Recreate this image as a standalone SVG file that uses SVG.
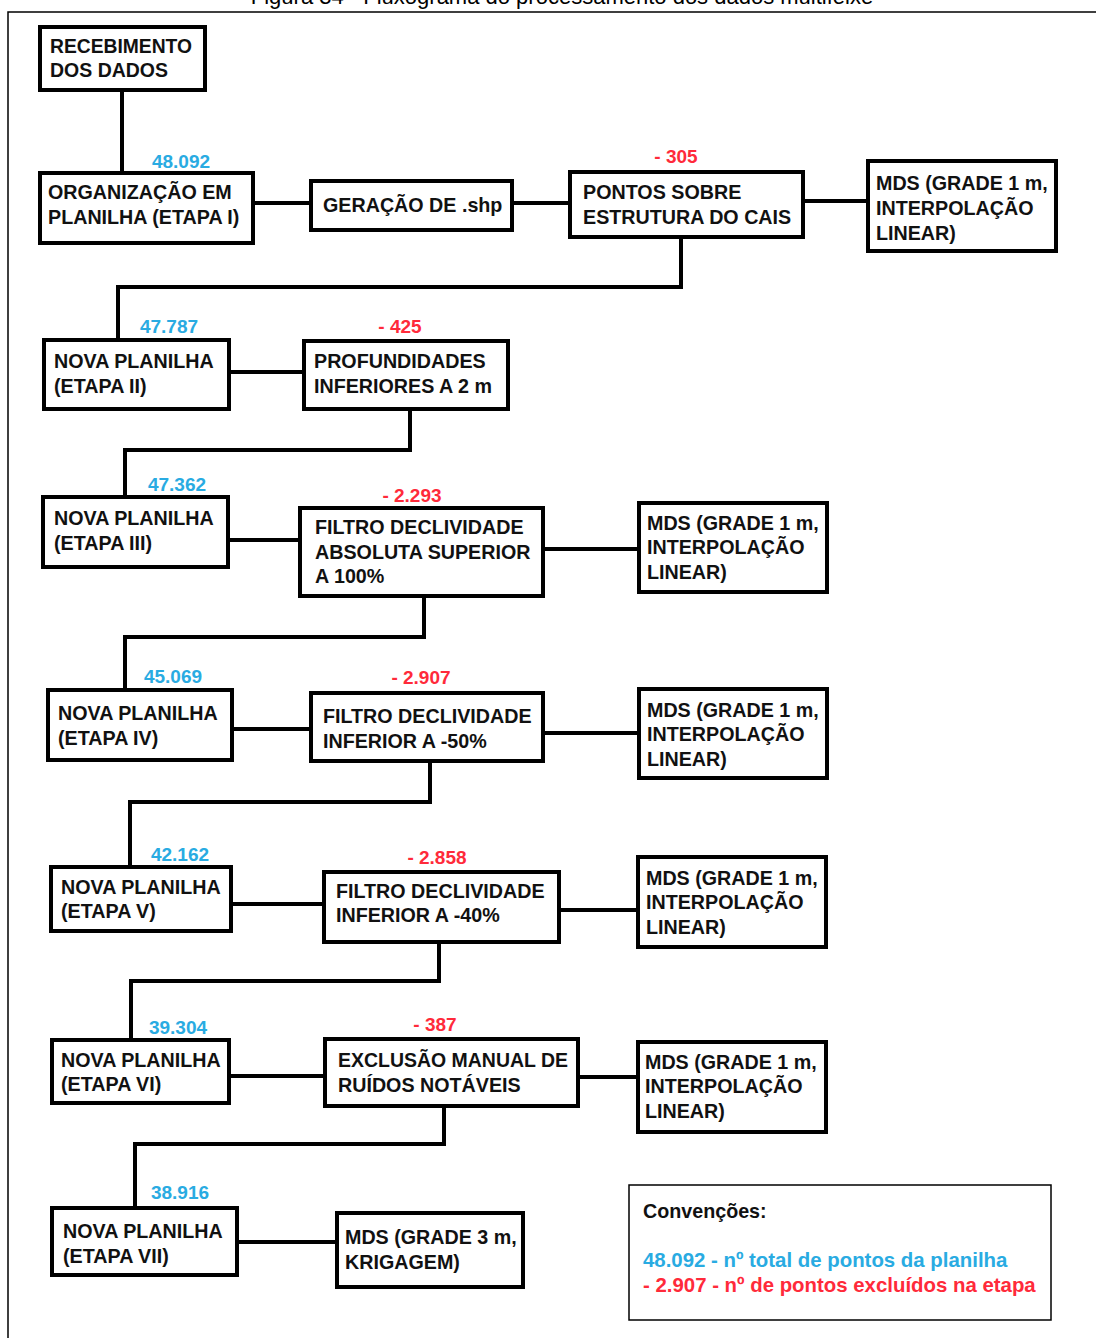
<svg xmlns="http://www.w3.org/2000/svg" width="1096" height="1338" viewBox="0 0 1096 1338">
<style>
.box{fill:#fff;stroke:#000;stroke-width:4}
.t{font-family:"Liberation Sans",Arial,sans-serif;font-weight:bold;font-size:19.7px;fill:#111}
.b{font-family:"Liberation Sans",Arial,sans-serif;font-weight:bold;font-size:19px;fill:#29abe2}
.r{font-family:"Liberation Sans",Arial,sans-serif;font-weight:bold;font-size:19px;fill:#ff2a3a}
.lg{font-size:20.4px}
.c{fill:none;stroke:#000;stroke-width:4}
.frame{fill:none;stroke:#000;stroke-width:1.5}
</style>
<rect width="1096" height="1338" fill="#fff"/>
<text x="562" y="4" text-anchor="middle" font-family="Liberation Sans,Arial,sans-serif" font-size="22" fill="#000">Figura 34 - Fluxograma do processamento dos dados multifeixe</text>
<path class="frame" d="M1096 12 H8 V1338"/>
<g id="connectors">
<path class="c" d="M122 90 V173"/>
<path class="c" d="M253 203 H311"/>
<path class="c" d="M512 203 H570"/>
<path class="c" d="M803 201 H868"/>
<path class="c" d="M681 237 V287 H118 V340"/>
<path class="c" d="M229 372 H304"/>
<path class="c" d="M410 409 V450 H125 V497"/>
<path class="c" d="M228 540 H300"/>
<path class="c" d="M543 549 H639"/>
<path class="c" d="M424 596 V637 H125 V690"/>
<path class="c" d="M232 729 H311"/>
<path class="c" d="M543 733 H639"/>
<path class="c" d="M430 761 V802 H130 V867"/>
<path class="c" d="M231 904 H324"/>
<path class="c" d="M559 910 H638"/>
<path class="c" d="M439 942 V981 H131 V1040"/>
<path class="c" d="M229 1076 H325"/>
<path class="c" d="M578 1077 H638"/>
<path class="c" d="M444 1106 V1144 H135 V1208"/>
<path class="c" d="M237 1242 H337"/>
</g>
<g id="n1"><rect class="box" x="40" y="27" width="165" height="63"/>
<text class="t" x="50" y="53" textLength="142" lengthAdjust="spacingAndGlyphs">RECEBIMENTO</text>
<text class="t" x="50" y="77" textLength="118" lengthAdjust="spacingAndGlyphs">DOS DADOS</text></g>
<g id="n2"><rect class="box" x="40" y="173" width="213" height="70"/>
<text class="b" x="181" y="168" text-anchor="middle">48.092</text>
<text class="t" x="48" y="199">ORGANIZAÇÃO EM</text>
<text class="t" x="48" y="224">PLANILHA (ETAPA I)</text></g>
<g id="n3"><rect class="box" x="311" y="181" width="201" height="49"/>
<text class="t" x="323" y="212">GERAÇÃO DE .shp</text></g>
<g id="n4"><rect class="box" x="570" y="172" width="233" height="65"/>
<text class="r" x="676" y="163" text-anchor="middle">- 305</text>
<text class="t" x="583" y="199">PONTOS SOBRE</text>
<text class="t" x="583" y="224">ESTRUTURA DO CAIS</text></g>
<g id="n5"><rect class="box" x="868" y="161" width="188" height="90"/>
<text class="t" x="876" y="190">MDS (GRADE 1 m,</text>
<text class="t" x="876" y="215">INTERPOLAÇÃO</text>
<text class="t" x="876" y="240">LINEAR)</text></g>
<g id="n6"><rect class="box" x="44" y="340" width="185" height="69"/>
<text class="b" x="169" y="333" text-anchor="middle">47.787</text>
<text class="t" x="54" y="368">NOVA PLANILHA</text>
<text class="t" x="54" y="393">(ETAPA II)</text></g>
<g id="n7"><rect class="box" x="304" y="341" width="204" height="68"/>
<text class="r" x="400" y="333" text-anchor="middle">- 425</text>
<text class="t" x="314" y="368">PROFUNDIDADES</text>
<text class="t" x="314" y="393">INFERIORES A 2 m</text></g>
<g id="n8"><rect class="box" x="43" y="497" width="185" height="70"/>
<text class="b" x="177" y="491" text-anchor="middle">47.362</text>
<text class="t" x="54" y="525">NOVA PLANILHA</text>
<text class="t" x="54" y="550">(ETAPA III)</text></g>
<g id="n9"><rect class="box" x="300" y="508" width="243" height="88"/>
<text class="r" x="412" y="502" text-anchor="middle">- 2.293</text>
<text class="t" x="315" y="534">FILTRO DECLIVIDADE</text>
<text class="t" x="315" y="559">ABSOLUTA SUPERIOR</text>
<text class="t" x="315" y="583">A 100%</text></g>
<g id="n10"><rect class="box" x="639" y="503" width="188" height="89"/>
<text class="t" x="647" y="530">MDS (GRADE 1 m,</text>
<text class="t" x="647" y="554">INTERPOLAÇÃO</text>
<text class="t" x="647" y="579">LINEAR)</text></g>
<g id="n11"><rect class="box" x="48" y="690" width="184" height="70"/>
<text class="b" x="173" y="683" text-anchor="middle">45.069</text>
<text class="t" x="58" y="720">NOVA PLANILHA</text>
<text class="t" x="58" y="745">(ETAPA IV)</text></g>
<g id="n12"><rect class="box" x="311" y="693" width="232" height="68"/>
<text class="r" x="421" y="684" text-anchor="middle">- 2.907</text>
<text class="t" x="323" y="723">FILTRO DECLIVIDADE</text>
<text class="t" x="323" y="748">INFERIOR A -50%</text></g>
<g id="n13"><rect class="box" x="639" y="689" width="188" height="89"/>
<text class="t" x="647" y="717">MDS (GRADE 1 m,</text>
<text class="t" x="647" y="741">INTERPOLAÇÃO</text>
<text class="t" x="647" y="766">LINEAR)</text></g>
<g id="n14"><rect class="box" x="51" y="867" width="180" height="64"/>
<text class="b" x="180" y="861" text-anchor="middle">42.162</text>
<text class="t" x="61" y="894">NOVA PLANILHA</text>
<text class="t" x="61" y="918">(ETAPA V)</text></g>
<g id="n15"><rect class="box" x="324" y="872" width="235" height="70"/>
<text class="r" x="437" y="864" text-anchor="middle">- 2.858</text>
<text class="t" x="336" y="898">FILTRO DECLIVIDADE</text>
<text class="t" x="336" y="922">INFERIOR A -40%</text></g>
<g id="n16"><rect class="box" x="638" y="857" width="188" height="90"/>
<text class="t" x="646" y="885">MDS (GRADE 1 m,</text>
<text class="t" x="646" y="909">INTERPOLAÇÃO</text>
<text class="t" x="646" y="934">LINEAR)</text></g>
<g id="n17"><rect class="box" x="52" y="1040" width="177" height="63"/>
<text class="b" x="178" y="1034" text-anchor="middle">39.304</text>
<text class="t" x="61" y="1067">NOVA PLANILHA</text>
<text class="t" x="61" y="1091">(ETAPA VI)</text></g>
<g id="n18"><rect class="box" x="325" y="1039" width="253" height="67"/>
<text class="r" x="435" y="1031" text-anchor="middle">- 387</text>
<text class="t" x="338" y="1067" textLength="230" lengthAdjust="spacingAndGlyphs">EXCLUSÃO MANUAL DE</text>
<text class="t" x="338" y="1092">RUÍDOS NOTÁVEIS</text></g>
<g id="n19"><rect class="box" x="638" y="1042" width="188" height="90"/>
<text class="t" x="645" y="1069">MDS (GRADE 1 m,</text>
<text class="t" x="645" y="1093">INTERPOLAÇÃO</text>
<text class="t" x="645" y="1118">LINEAR)</text></g>
<g id="n20"><rect class="box" x="52" y="1208" width="185" height="67"/>
<text class="b" x="180" y="1199" text-anchor="middle">38.916</text>
<text class="t" x="63" y="1238">NOVA PLANILHA</text>
<text class="t" x="63" y="1263">(ETAPA VII)</text></g>
<g id="n21"><rect class="box" x="337" y="1213" width="186" height="74"/>
<text class="t" x="345" y="1244">MDS (GRADE 3 m,</text>
<text class="t" x="345" y="1269">KRIGAGEM)</text></g>
<g id="legend"><rect x="629" y="1185" width="422" height="135" fill="#fff" stroke="#000" stroke-width="1.5"/>
<text class="t" x="643" y="1218">Convenções:</text>
<text class="b lg" x="643" y="1267">48.092 - nº total de pontos da planilha</text>
<text class="r lg" x="643" y="1292">- 2.907 - nº de pontos excluídos na etapa</text></g>
</svg>
